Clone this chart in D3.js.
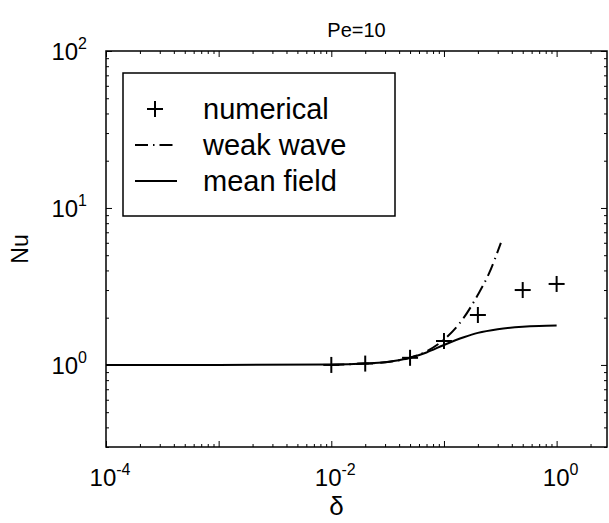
<!DOCTYPE html>
<html>
<head>
<meta charset="utf-8">
<script src="https://cdn.jsdelivr.net/npm/d3@7"></script>
<style>
  body { margin: 0; background: #fff; }
  text { font-family: "Liberation Sans", Arial, sans-serif; fill: #000; }
</style>
</head>
<body>
<div id="chart-area"></div>
<script>
// data (Pe = 10)
let numDelta = [0.01, 0.02, 0.05, 0.1, 0.2, 0.5, 1];
let numNu = [1.0, 1.02, 1.11, 1.42, 2.08, 3.0, 3.28];

let waveDelta = [0.01, 0.02, 0.03, 0.05, 0.07, 0.1, 0.15, 0.2, 0.25, 0.32];
let waveNu = [1.0, 1.02, 1.04, 1.11, 1.22, 1.45, 2.0, 2.8, 3.8, 6.0];

let meanDelta = [0.0001, 0.001, 0.01, 0.02, 0.03, 0.05, 0.07, 0.1, 0.15, 0.2, 0.3, 0.5, 0.7, 1];
let meanNu = [1.0, 1.0, 1.005, 1.02, 1.04, 1.11, 1.2, 1.34, 1.5, 1.6, 1.69, 1.75, 1.77, 1.78];

let xTickExp = [-4, -3, -2, -1, 0];
let xLabelExp = [-4, -2, 0];
let yTickExp = [0, 1, 2];

let legendLabels = ["numerical", "weak wave", "mean field"];

let margin = {top: 51, right: 2, bottom: 76, left: 106};
let W = 609, H = 523;
let width = W - margin.left - margin.right;
let height = H - margin.top - margin.bottom;

let svg = d3.select("#chart-area").append("svg")
    .attr("width", W)
    .attr("height", H)
  .append("g")
    .attr("transform", "translate(" + margin.left + "," + margin.top + ")");

let xScale = d3.scaleLog().domain([1e-4, 2.8]).range([0, width]);
let yScale = d3.scaleLog().domain([0.3, 100]).range([height, 0]);

// minor ticks for log axes
function minors(lo, hi) {
  let out = [];
  for (let e = lo; e < hi; e++) {
    for (let k = 2; k <= 9; k++) out.push(k * Math.pow(10, e));
  }
  return out;
}
let xMinor = minors(-4, 1).filter(v => v <= 2.8);
let yMinor = minors(-1, 2).filter(v => v >= 0.3 && v <= 100);

let xMajor = xTickExp.map(e => Math.pow(10, e));
let yMajor = yTickExp.map(e => Math.pow(10, e));

// ticks on all four sides, pointing inward
function tickGroup(axisFn, scale, vals, size, transform) {
  svg.append("g")
    .attr("transform", transform)
    .call(axisFn(scale).tickValues(vals).tickSize(size).tickFormat(""))
    .call(g => g.select(".domain").remove())
    .call(g => g.selectAll("line").attr("stroke", "#000").attr("stroke-width", 1));
}
tickGroup(d3.axisTop, xScale, xMajor, 6, `translate(0,${height})`);
tickGroup(d3.axisTop, xScale, xMinor, 3, `translate(0,${height})`);
tickGroup(d3.axisBottom, xScale, xMajor, 6, "translate(0,0)");
tickGroup(d3.axisBottom, xScale, xMinor, 3, "translate(0,0)");
tickGroup(d3.axisRight, yScale, yMajor, 6, "translate(0,0)");
tickGroup(d3.axisRight, yScale, yMinor, 3, "translate(0,0)");
tickGroup(d3.axisLeft, yScale, yMajor, 6, `translate(${width},0)`);
tickGroup(d3.axisLeft, yScale, yMinor, 3, `translate(${width},0)`);

// frame
svg.append("rect")
  .attr("width", width).attr("height", height)
  .attr("fill", "none").attr("stroke", "#000").attr("stroke-width", 1.5);

// tick labels as 10^n
function powLabel(sel, e) {
  sel.append("tspan").text("10");
  sel.append("tspan").attr("dy", -11).attr("font-size", 16).text(e);
}
xLabelExp.forEach(e => {
  let t = svg.append("text")
    .attr("x", xScale(Math.pow(10, e)) + 4)
    .attr("y", height + 39)
    .attr("text-anchor", "middle")
    .attr("font-size", 24);
  powLabel(t, e);
});
yTickExp.forEach(e => {
  let t = svg.append("text")
    .attr("x", -19)
    .attr("y", yScale(Math.pow(10, e)) + 9)
    .attr("text-anchor", "end")
    .attr("font-size", 24);
  powLabel(t, e);
});

// titles
svg.append("text")
  .attr("x", width / 2).attr("y", -14)
  .attr("text-anchor", "middle").attr("font-size", 20)
  .text("Pe=10");
svg.append("text")
  .attr("transform", `translate(${-78},${height / 2}) rotate(-90)`)
  .attr("text-anchor", "middle").attr("font-size", 23)
  .text("Nu");
svg.append("text")
  .attr("x", width / 2 - 20).attr("y", height + 68)
  .attr("text-anchor", "middle").attr("font-size", 26)
  .attr("font-family", "'DejaVu Serif', serif")
  .text("δ");

// curves
let line = d3.line().x(d => xScale(d[0])).y(d => yScale(d[1]));

svg.append("path")
  .datum(meanDelta.map((d, i) => [d, meanNu[i]]))
  .attr("d", line.curve(d3.curveMonotoneX))
  .attr("fill", "none").attr("stroke", "#000").attr("stroke-width", 2);

svg.append("path")
  .datum(waveDelta.map((d, i) => [d, waveNu[i]]))
  .attr("d", line.curve(d3.curveMonotoneX))
  .attr("fill", "none").attr("stroke", "#000").attr("stroke-width", 2)
  .attr("stroke-dasharray", "13,5,1.5,5");

// numerical points as plus markers
let pts = svg.selectAll(".pt")
  .data(numDelta.map((d, i) => [d, numNu[i]]))
  .enter().append("g")
  .attr("class", "pt")
  .attr("transform", d => `translate(${xScale(d[0])},${yScale(d[1])})`);
pts.append("line").attr("x1", -8).attr("x2", 8).attr("stroke", "#000").attr("stroke-width", 2);
pts.append("line").attr("y1", -8).attr("y2", 8).attr("stroke", "#000").attr("stroke-width", 2);

// legend
let lg = svg.append("g").attr("transform", "translate(17,22)");
lg.append("rect")
  .attr("width", 272).attr("height", 143)
  .attr("fill", "#fff").attr("stroke", "#000").attr("stroke-width", 1.5);

let rowY = [36, 72, 108];
let l0 = lg.append("g").attr("transform", `translate(32,${rowY[0]})`);
l0.append("line").attr("x1", -8).attr("x2", 8).attr("stroke", "#000").attr("stroke-width", 2);
l0.append("line").attr("y1", -8).attr("y2", 8).attr("stroke", "#000").attr("stroke-width", 2);
lg.append("line")
  .attr("x1", 12).attr("x2", 54).attr("y1", rowY[1]).attr("y2", rowY[1])
  .attr("stroke", "#000").attr("stroke-width", 2).attr("stroke-dasharray", "13,5,1.5,5");
lg.append("line")
  .attr("x1", 12).attr("x2", 54).attr("y1", rowY[2]).attr("y2", rowY[2])
  .attr("stroke", "#000").attr("stroke-width", 2);

lg.selectAll(".lgtext")
  .data(legendLabels)
  .enter().append("text")
  .attr("class", "lgtext")
  .attr("x", 80)
  .attr("y", (d, i) => rowY[i] + 10)
  .attr("font-size", 29)
  .text(d => d);
</script>
</body>
</html>
